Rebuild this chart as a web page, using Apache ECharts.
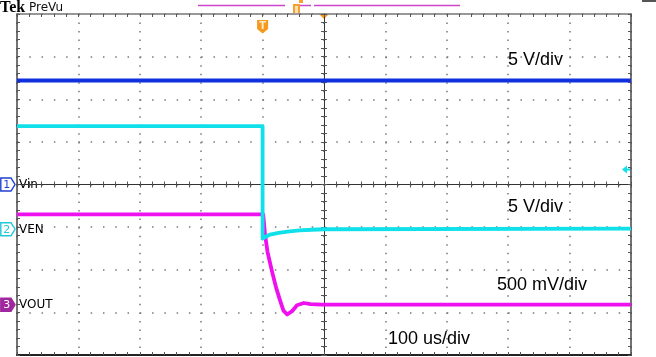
<!DOCTYPE html>
<html><head><meta charset="utf-8">
<script src="https://cdn.jsdelivr.net/npm/echarts@6/dist/echarts.min.js"></script>
<style>html,body{margin:0;padding:0;background:#fff}#c{width:656px;height:357px}</style>
</head><body><div id="c"></div>
<script>
// ---- Data (time in us, levels in volts) ----
const timeMin = -500, timeMax = 500, timeStep = 100;      // 100 us/div, 10 div
const divMin = -4, divMax = 4;                             // 8 vertical divisions
// Channel 1: Vin (5 V/div)
const vinTime  = [-500, 500];
const vinVolts = [12.2, 12.2];
// Channel 2: VEN (5 V/div)
const venTime  = [-500, -100, -100, -94, -88, -74, -56, -40, -20, 0, 500];
const venVolts = [12.1, 12.1, -1.1, -0.85, -0.62, -0.42, -0.25, -0.14, -0.06, 0, 0.08];
// Channel 3: VOUT (500 mV/div)
const voutTime  = [-500, -99, -96, -92, -85, -78, -72, -66, -60, -52, -44, -33, -22, -3, 500];
const voutVolts = [1.06, 1.06, 0.82, 0.62, 0.40, 0.20, 0.06, -0.07, -0.115, -0.076, -0.006, 0.02, 0.006, 0, 0];
const channelNames  = ['Vin', 'VEN', 'VOUT'];
const channelScales = [5, 5, 0.5];          // V/div
const channelGround = [0, -1.05, -2.82];    // ground marker, in divisions
const scaleLabels   = ['5 V/div', '5 V/div', '500 mV/div'];
const timebaseLabel = '100 us/div';
const triggerTime = -100;                   // us
const triggerLevel = 7;                     // V on channel 2
const traceColors = ['#1030e0', '#10e0ea', '#ee10ee'];

function toDiv(times, volts, ch) {
  return times.map((t, i) => [t, channelGround[ch] + volts[i] / channelScales[ch]]);
}

const tickStyle = {color: '#555', width: 1};
function xAx(extra) {
  return Object.assign({
    type: 'value', min: timeMin, max: timeMax, interval: timeStep,
    axisLabel: {show: false}, splitLine: {show: false},
    axisTick: {show: true, inside: true, length: 3, lineStyle: tickStyle},
    minorTick: {show: true, splitNumber: 5, length: 3, lineStyle: tickStyle},
    axisLine: {show: true, onZero: false, lineStyle: {color: '#444', width: 1.5}}
  }, extra);
}
function yAx(extra) {
  return Object.assign({
    type: 'value', min: divMin, max: divMax, interval: 1,
    axisLabel: {show: false}, splitLine: {show: false},
    axisTick: {show: true, inside: true, length: 3, lineStyle: tickStyle},
    minorTick: {show: true, splitNumber: 5, length: 3, lineStyle: tickStyle},
    axisLine: {show: true, onZero: false, lineStyle: {color: '#444', width: 1.5}}
  }, extra);
}

const GW = 614, GH = 341;
const dotColor = '#777';
const option = {
  animation: false,
  backgroundColor: '#fff',
  grid: {left: 17, top: 14, width: GW, height: GH, containLabel: false, outerBoundsMode: 'none'},
  xAxis: [
    xAx({position: 'bottom', axisLine: {show: true, onZero: false, lineStyle: {color: '#222', width: 2}},
      splitLine: {show: true, lineStyle: {color: dotColor, width: 1.5, type: [1.5, GH / 40 - 1.5]}}}),
    xAx({position: 'top', axisLine: {show: true, onZero: false, lineStyle: {color: '#777', width: 1.5}}}),
    xAx({position: 'bottom', offset: -GH / 2, axisLine: {show: true, onZero: false, lineStyle: {color: '#333', width: 1}},
      axisTick: {show: true, inside: true, length: 3, lineStyle: tickStyle}}),
    xAx({position: 'bottom', offset: -GH / 2, axisLine: {show: false},
      axisTick: {show: true, inside: false, length: 3, lineStyle: tickStyle}})
  ],
  yAxis: [
    yAx({position: 'left', splitLine: {show: true, lineStyle: {color: dotColor, width: 1.5, type: [1.5, GW / 50 - 1.5]}}}),
    yAx({position: 'right'}),
    yAx({position: 'left', offset: -GW / 2, axisLine: {show: true, onZero: false, lineStyle: {color: '#333', width: 1}}}),
    yAx({position: 'left', offset: -GW / 2, axisLine: {show: false},
      axisTick: {show: true, inside: false, length: 3, lineStyle: tickStyle}})
  ],
  series: [
    {name: channelNames[0], type: 'line', data: toDiv(vinTime, vinVolts, 0)},
    {name: channelNames[2], type: 'line', data: toDiv(voutTime, voutVolts, 2)},
    {name: channelNames[1], type: 'line', data: toDiv(venTime, venVolts, 1)}
  ].map((s, i) => Object.assign(s, {
    xAxisIndex: 0, yAxisIndex: 0, symbol: 'none', z: 5,
    lineStyle: {width: 3.8, color: traceColors[channelNames.indexOf(s.name)], join: 'round'}
  }))
};

const chart = echarts.init(document.getElementById('c'), null, {renderer: 'canvas'});
chart.setOption(option);

const px = (t, d) => chart.convertToPixel({xAxisIndex: 0, yAxisIndex: 0}, [t, d]);
const g = [];
// header
g.push({type: 'text', x: 0, y: 0, style: {text: 'Tek', font: 'bold 16px "Liberation Serif"', fill: '#000'}});
g.push({type: 'text', x: 29, y: 2, style: {text: 'PreVu', font: '12px "DejaVu Sans"', fill: '#111'}});
g.push({type: 'rect', shape: {x: 642, y: 0, width: 14, height: 2}, style: {fill: '#555'}});
// record bar
[[198, 285], [300, 311], [314, 460]].forEach(s => g.push({type: 'line', shape: {x1: s[0], y1: 5.5, x2: s[1], y2: 5.5}, style: {stroke: '#cc44cc', lineWidth: 1.5}}));
g.push({type: 'rect', shape: {x: 293, y: 4, width: 7, height: 9}, style: {fill: '#f5a030'}});
g.push({type: 'rect', shape: {x: 295, y: 6, width: 3, height: 7}, style: {fill: '#fde2b0'}});
g.push({type: 'rect', shape: {x: 299, y: 0, width: 4, height: 3}, style: {fill: '#f5a030'}});
// trigger position marker
const tp = px(triggerTime, 0);
g.push({type: 'polygon', shape: {points: [[tp[0] - 5.5, 20], [tp[0] + 5.5, 20], [tp[0] + 5.5, 29], [tp[0], 33.5], [tp[0] - 5.5, 29]]}, style: {fill: '#f39a1f'}});
g.push({type: 'text', x: tp[0], y: 26, style: {text: 'T', font: 'bold 10px "DejaVu Sans"', fill: '#fde9c8', align: 'center', verticalAlign: 'middle'}});
// expansion point (center) marker
const cp = px(0, divMax);
g.push({type: 'polygon', shape: {points: [[cp[0] - 5, cp[1]], [cp[0] + 5, cp[1]], [cp[0], cp[1] + 5]]}, style: {fill: '#f39a1f'}});
// trigger level arrow (channel 2)
const tl = px(timeMax, channelGround[1] + triggerLevel / channelScales[1]);
g.push({type: 'polygon', shape: {points: [[tl[0] - 9, tl[1]], [tl[0] - 4, tl[1] - 4], [tl[0] - 4, tl[1] + 4]]}, style: {fill: traceColors[1]}});
g.push({type: 'line', shape: {x1: tl[0] - 5, y1: tl[1], x2: tl[0] - 1, y2: tl[1]}, style: {stroke: traceColors[1], lineWidth: 2}});
// channel ground markers + names
const tagStroke = ['#2040d0', '#20c8d8', '#a0289f'];
channelNames.forEach((name, ch) => {
  const p = px(timeMin, channelGround[ch]);
  const y = p[1];
  const filled = ch === 2;
  g.push({type: 'polygon', shape: {points: [[0.8, y - 6.5], [11, y - 6.5], [15, y], [11, y + 6.5], [0.8, y + 6.5]]},
    style: {fill: filled ? tagStroke[ch] : '#fff', stroke: tagStroke[ch], lineWidth: 1.4}});
  g.push({type: 'text', x: 6.8, y: y + 0.5, style: {text: String(ch + 1), font: '11px "DejaVu Sans"', fill: filled ? '#fff' : tagStroke[ch], align: 'center', verticalAlign: 'middle'}});
  g.push({type: 'text', x: 19, y: y + 0.5, style: {text: name, font: '12px "DejaVu Sans"', fill: '#000', verticalAlign: 'middle'}});
});
// scale labels
const labelPos = [[508, 60], [508, 207], [497, 285]];
scaleLabels.forEach((s, i) => g.push({type: 'text', x: labelPos[i][0], y: labelPos[i][1], style: {text: s, font: '18px "Liberation Sans"', fill: '#000', verticalAlign: 'middle'}}));
g.push({type: 'text', x: 388, y: 339, style: {text: timebaseLabel, font: '18px "Liberation Sans"', fill: '#000', verticalAlign: 'middle'}});
chart.setOption({graphic: {elements: g}});
</script>
</body></html>
